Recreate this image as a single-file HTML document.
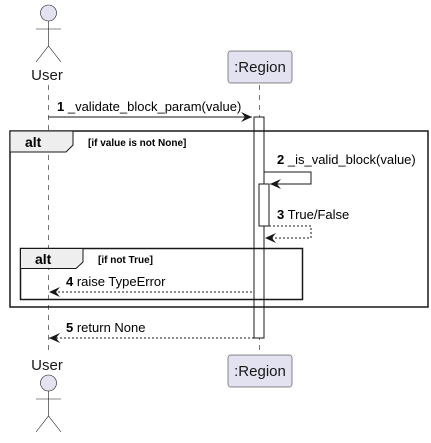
<!DOCTYPE html>
<html><head><style>body{margin:0;background:#fff}</style></head><body>
<svg width="431" height="438" xmlns="http://www.w3.org/2000/svg" font-family="Liberation Sans, sans-serif">
<defs><marker id="a" markerWidth="12" markerHeight="10" refX="11" refY="5" orient="auto" markerUnits="userSpaceOnUse"><path d="M0,0 L11,5 L0,10 L4,5 Z" fill="#181818"/></marker></defs>
<g stroke="#181818" stroke-width="0.6" stroke-dasharray="5,5"><line x1="48.5" y1="85" x2="48.5" y2="350"/><line x1="259.5" y1="85" x2="259.5" y2="352"/></g>
<g fill="#e2e2f0" stroke="#181818" stroke-width="0.6">
<circle cx="48.5" cy="13" r="8"/><circle cx="48.5" cy="383" r="8"/></g>
<g stroke="#181818" stroke-width="0.6" fill="none">
<path d="M48.5 21V46M36 29H61M36 62L48.5 46L61 62"/>
<path d="M48.5 391V416M36 399H61M36 432L48.5 416L61 432"/></g>
<text x="47" y="80" font-size="15" text-anchor="middle" fill="#181818">User</text>
<text x="47" y="370" font-size="15" text-anchor="middle" fill="#181818">User</text>
<rect x="228" y="51" width="64" height="32" rx="2.5" fill="#e2e2f0" stroke="#181818" stroke-width="0.5"/>
<text x="260" y="72" font-size="15" text-anchor="middle" fill="#181818">:Region</text>
<rect x="228" y="355" width="64" height="32" rx="2.5" fill="#e2e2f0" stroke="#181818" stroke-width="0.5"/>
<text x="260" y="376" font-size="15" text-anchor="middle" fill="#181818">:Region</text>
<rect x="254" y="117" width="10" height="221" fill="#fff" stroke="#181818" stroke-width="1"/>
<rect x="259" y="184" width="10" height="42" fill="#fff" stroke="#181818" stroke-width="1"/>
<rect x="10" y="131" width="418" height="176" fill="none" stroke="#181818" stroke-width="1.5"/>
<path d="M10 131H73V145L66 152H10Z" fill="#eee" stroke="#181818" stroke-width="1"/>
<text x="25" y="147" font-size="14" font-weight="bold" fill="#000">alt</text>
<text x="88" y="146" font-size="10" font-weight="bold" fill="#000">[if value is not None]</text>
<rect x="20.5" y="248.5" width="282" height="51" fill="none" stroke="#181818" stroke-width="1.5"/>
<path d="M20.5 248.5H83V262L76 268.5H20.5Z" fill="#eee" stroke="#181818" stroke-width="1"/>
<text x="35" y="264" font-size="14" font-weight="bold" fill="#000">alt</text>
<text x="98" y="263" font-size="10" font-weight="bold" fill="#000">[if not True]</text>
<g stroke="#181818" fill="none" stroke-width="1">
<line x1="48.5" y1="117" x2="252" y2="117" marker-end="url(#a)"/>
<path d="M264 172H311V184H270" marker-end="url(#a)"/>
<path d="M269 226H311V238H265" stroke-dasharray="2,2" marker-end="url(#a)"/>
<line x1="252" y1="292" x2="49" y2="292" stroke-dasharray="2,2" marker-end="url(#a)"/>
<line x1="254" y1="338" x2="49" y2="338" stroke-dasharray="2,2" marker-end="url(#a)"/>
</g>
<g font-size="13" fill="#000">
<text x="57" y="111"><tspan font-weight="bold">1</tspan> _validate_block_param(value)</text>
<text x="277" y="164"><tspan font-weight="bold">2</tspan> _is_valid_block(value)</text>
<text x="277" y="219"><tspan font-weight="bold">3</tspan> True/False</text>
<text x="66" y="286"><tspan font-weight="bold">4</tspan> raise TypeError</text>
<text x="66" y="332"><tspan font-weight="bold">5</tspan> return None</text>
</g>
</svg>
</body></html>
